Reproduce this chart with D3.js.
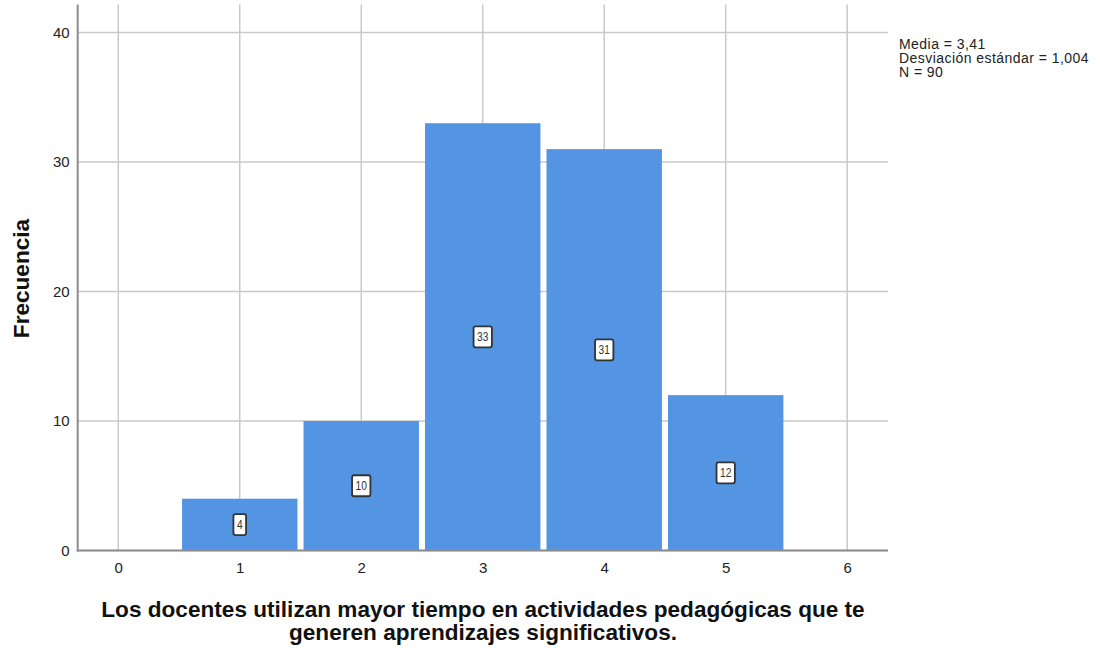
<!DOCTYPE html>
<html>
<head>
<meta charset="utf-8">
<script src="https://cdn.jsdelivr.net/npm/d3@7"></script>
<style>
  html, body { margin: 0; padding: 0; background: #fff; }
  svg { display: block; font-family: "Liberation Sans", Arial, sans-serif; }
</style>
</head>
<body>
<svg id="chart" width="1100" height="648"></svg>
<script>
// ---- data ----
const categories = [1, 2, 3, 4, 5];
const counts = [4, 10, 33, 31, 12];
const xTicks = [0, 1, 2, 3, 4, 5, 6];
const yTicks = [0, 10, 20, 30, 40];
const statsLines = ["Media = 3,41", "Desviación estándar = 1,004", "N = 90"];
const xTitleLines = ["Los docentes utilizan mayor tiempo en actividades pedagógicas que te", "generen aprendizajes significativos."];
const yTitle = "Frecuencia";

(function () {
// ---- layout ----
const svg = d3.select("#chart");
const pL = 77.7, pR = 888, pT = 4.5, pB = 550.5;
const x = d3.scaleLinear().domain([-0.334, 6.336]).range([pL, pR]);
const y = d3.scaleLinear().domain([0, 42.17]).range([pB, pT]);

// gridlines
const grid = svg.append("g");
grid.selectAll("line.v").data(xTicks).join("line").attr("class", "v")
  .attr("x1", d => x(d)).attr("x2", d => x(d))
  .attr("y1", pT).attr("y2", pB)
  .attr("stroke", "#c9c9c9").attr("stroke-width", 1.5);
grid.selectAll("line.h").data(yTicks).join("line").attr("class", "h")
  .attr("x1", pL).attr("x2", pR)
  .attr("y1", d => y(d)).attr("y2", d => y(d))
  .attr("stroke", "#c9c9c9").attr("stroke-width", 1.5);

// bars
const halfW = 0.475;
svg.append("g").selectAll("rect").data(categories).join("rect")
  .attr("x", (d) => x(d - halfW))
  .attr("width", d => x(d + halfW) - x(d - halfW))
  .attr("y", (d, i) => y(counts[i]))
  .attr("height", (d, i) => y(0) - y(counts[i]))
  .attr("fill", "#5394e3");

// axes (no tick marks, only lines + labels)
const xAxis = d3.axisBottom(x).tickValues(xTicks).tickSize(0).tickPadding(12).tickFormat(d3.format("d"));
const gx = svg.append("g").attr("transform", `translate(0,${pB})`).call(xAxis);
gx.select(".domain").remove();
gx.selectAll("text").attr("font-size", 15).attr("fill", "#222").attr("font-family", "Liberation Sans, Arial, sans-serif");

const yAxis = d3.axisLeft(y).tickValues(yTicks).tickSize(0).tickPadding(8).tickFormat(d3.format("d"));
const gy = svg.append("g").attr("transform", `translate(${pL},0)`).call(yAxis);
gy.select(".domain").remove();
gy.selectAll("text").attr("font-size", 15).attr("fill", "#222").attr("font-family", "Liberation Sans, Arial, sans-serif");

// axis lines
svg.append("line").attr("x1", pL).attr("x2", pL).attr("y1", pT).attr("y2", pB + 1)
  .attr("stroke", "#8c8c8c").attr("stroke-width", 2);
svg.append("line").attr("x1", pL - 1).attr("x2", pR).attr("y1", pB).attr("y2", pB)
  .attr("stroke", "#8c8c8c").attr("stroke-width", 2);

// value labels
const lab = svg.append("g").selectAll("g").data(categories).join("g")
  .attr("transform", (d, i) => `translate(${x(d)},${y(counts[i] / 2)})`);
lab.append("text")
  .attr("text-anchor", "middle").attr("dy", "0.36em")
  .attr("font-size", 12).attr("fill", "#333")
  .attr("transform", "scale(0.85,1)")
  .text((d, i) => counts[i]);
lab.each(function() {
  const g = d3.select(this);
  const bb = g.select("text").node().getBBox();
  const w = bb.width * 0.85 + 7;
  g.insert("rect", "text")
    .attr("x", -w / 2).attr("y", -10.5)
    .attr("width", w).attr("height", 21)
    .attr("rx", 2).attr("fill", "#fff")
    .attr("stroke", "#333").attr("stroke-width", 1.8);
});

// stats
svg.append("g").selectAll("text").data(statsLines).join("text")
  .attr("x", 899).attr("y", (d, i) => 49 + i * 14.2)
  .attr("font-size", 14).attr("letter-spacing", 0.45).attr("fill", "#222")
  .text(d => d);

// axis titles
svg.append("g").selectAll("text").data(xTitleLines).join("text")
  .attr("x", 483).attr("y", (d, i) => 617 + i * 23)
  .attr("text-anchor", "middle")
  .attr("font-size", 22.6).attr("font-weight", "bold").attr("fill", "#111")
  .text(d => d);

svg.append("text")
  .attr("transform", `translate(29,${278.5}) rotate(-90)`)
  .attr("text-anchor", "middle")
  .attr("font-size", 22.6).attr("font-weight", "bold").attr("fill", "#111")
  .text(yTitle);
})();
</script>
</body>
</html>
